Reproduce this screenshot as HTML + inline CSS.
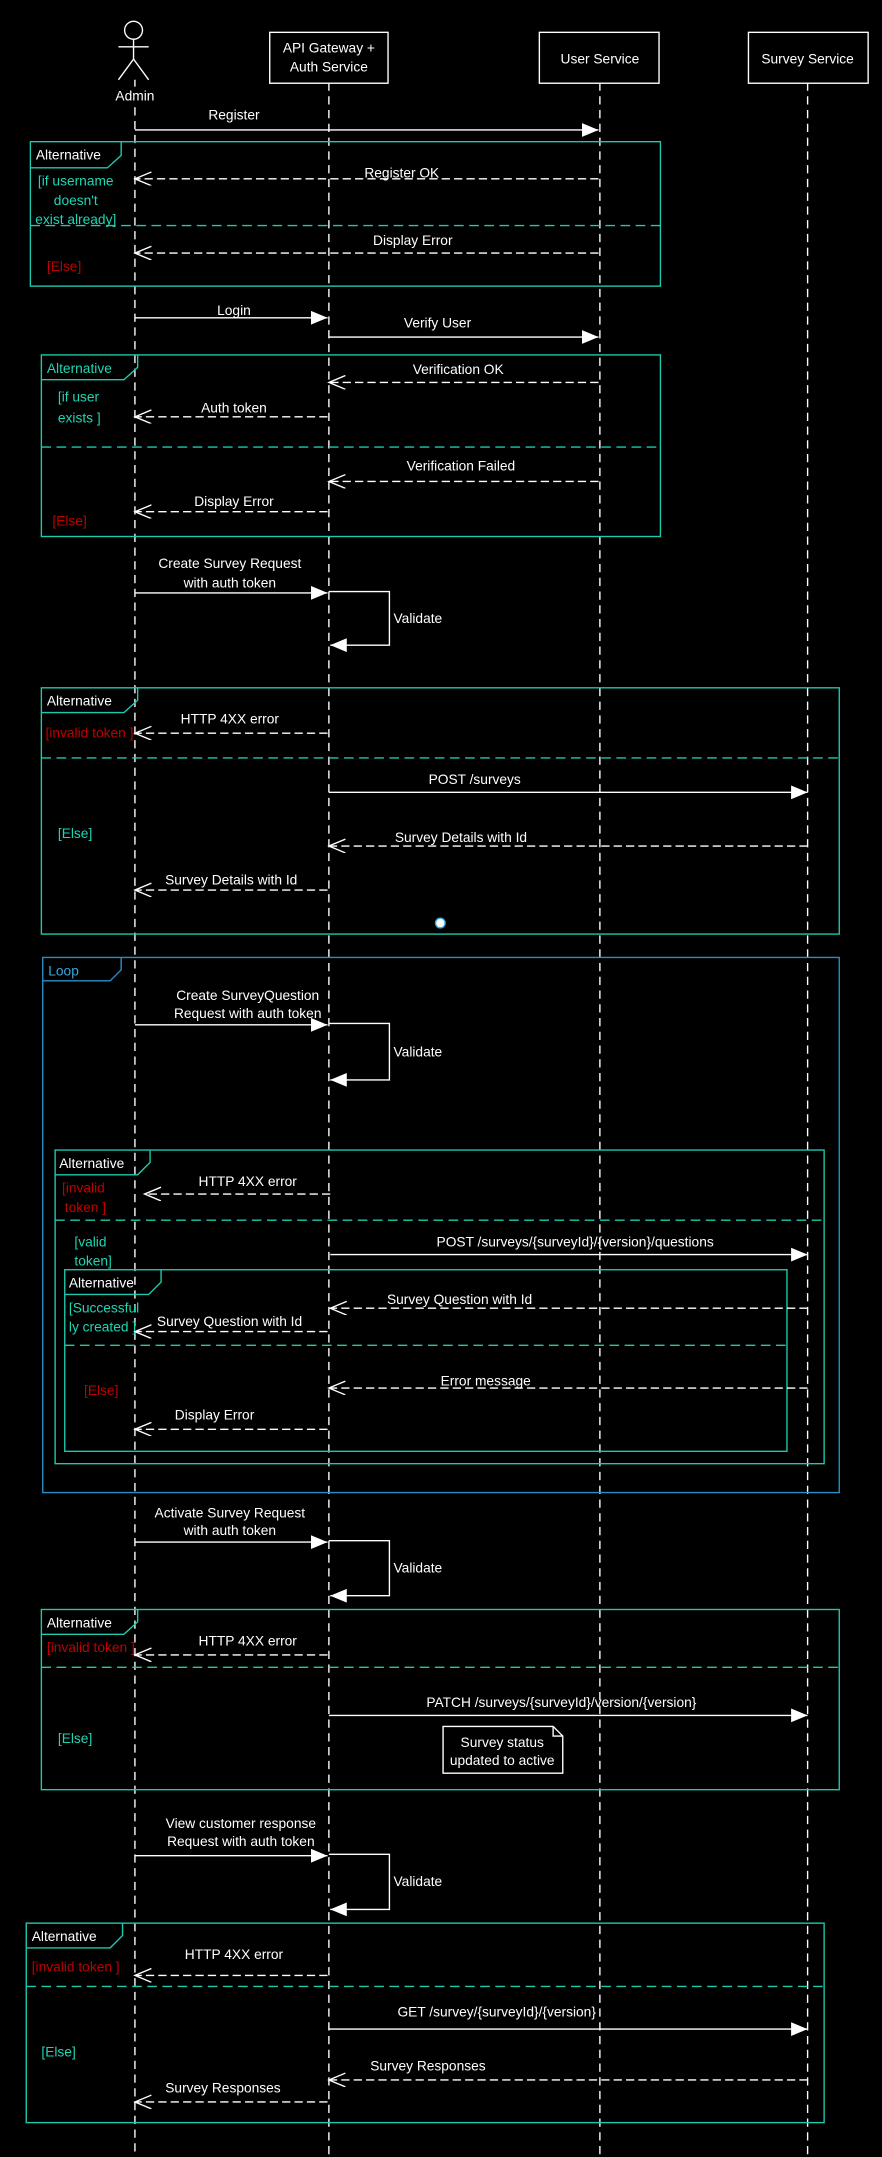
<!DOCTYPE html>
<html><head><meta charset="utf-8"><style>
html,body{margin:0;padding:0;background:#000;}
svg{display:block}
text{font-family:"Liberation Sans Narrow","Liberation Sans",sans-serif;font-size:10px;fill:#fff}
.t{fill:#1fd6b4}.r{fill:#c00000}.b{fill:#3aa8e0}
.ll{stroke:#fff;stroke-width:1;stroke-dasharray:6,4;fill:none}
.s{stroke:#fff;stroke-width:1;fill:none;marker-end:url(#fa)}
.d{stroke:#fff;stroke-width:1;stroke-dasharray:6,3;fill:none;marker-end:url(#oa)}
.f{stroke:#1fc9ad;stroke-width:1;fill:none}
.fd{stroke:#1fc9ad;stroke-width:1;stroke-dasharray:7,4;fill:none}
.lp{stroke:#2a8fc8;stroke-width:1;fill:none}
</style></head><body>
<svg width="882" height="2157" viewBox="0 0 641 1568" xmlns="http://www.w3.org/2000/svg">
<defs>
<marker id="fa" markerUnits="userSpaceOnUse" markerWidth="14" markerHeight="12" refX="12" refY="5" orient="auto"><path d="M0,0 L12,5 L0,10 z" fill="#fff"/></marker>
<marker id="oa" markerUnits="userSpaceOnUse" markerWidth="14" markerHeight="12" refX="12" refY="5" orient="auto"><path d="M0,0 L12,5 L0,10" fill="none" stroke="#fff"/></marker>
</defs>
<rect width="641" height="1568" fill="#000"/>
<!-- lifelines -->
<line class="ll" x1="98" y1="58" x2="98" y2="1568"/>
<line class="ll" x1="239" y1="60" x2="239" y2="1568"/>
<line class="ll" x1="436" y1="60" x2="436" y2="1568"/>
<line class="ll" x1="587" y1="60" x2="587" y2="1568"/>
<!-- actor -->
<circle cx="97" cy="22" r="6.5" fill="#000" stroke="#fff"/>
<line x1="97" y1="28.5" x2="97" y2="43" stroke="#fff"/>
<line x1="86" y1="34" x2="108" y2="34" stroke="#fff"/>
<path d="M86,58 L97,43 L108,58" fill="none" stroke="#fff"/>
<rect x="88" y="63" width="20" height="12" fill="#000"/>
<text x="98" y="73" text-anchor="middle">Admin</text>
<!-- headers -->
<rect x="196" y="23.5" width="86" height="37" fill="#000" stroke="#fff"/>
<text x="239" y="38" text-anchor="middle">API Gateway +</text>
<text x="239" y="52" text-anchor="middle">Auth Service</text>
<rect x="392" y="23.5" width="87" height="37" fill="#000" stroke="#fff"/>
<text x="436" y="46" text-anchor="middle">User Service</text>
<rect x="544" y="23.5" width="87" height="37" fill="#000" stroke="#fff"/>
<text x="587" y="46" text-anchor="middle">Survey Service</text>

<!-- Register -->
<text x="170" y="87" text-anchor="middle">Register</text>
<line class="s" x1="98" y1="94.5" x2="435" y2="94.5"/>
<rect class="f" x="22" y="103" width="458" height="105"/>
<path class="f" d="M22,122 L78,122 L88,113 L88,103"/>
<text x="26" y="116">Alternative</text>
<text class="t" x="55" y="135" text-anchor="middle">[if username</text>
<text class="t" x="55" y="149" text-anchor="middle">doesn't</text>
<text class="t" x="55" y="163" text-anchor="middle">exist already]</text>
<text x="292" y="129" text-anchor="middle">Register OK</text>
<line class="d" x1="435" y1="130" x2="98" y2="130"/>
<line class="fd" x1="22" y1="164" x2="480" y2="164"/>
<text x="300" y="178" text-anchor="middle">Display Error</text>
<line class="d" x1="435" y1="184" x2="98" y2="184"/>
<text class="r" x="34" y="197">[Else]</text>

<!-- Login -->
<text x="170" y="229" text-anchor="middle">Login</text>
<line class="s" x1="98" y1="231" x2="238" y2="231"/>
<text x="318" y="238" text-anchor="middle">Verify User</text>
<line class="s" x1="239" y1="245" x2="435" y2="245"/>
<rect class="f" x="30" y="258" width="450" height="132"/>
<path class="f" d="M30,276 L90,276 L100,267 L100,258"/>
<text x="34" y="271" class="t">Alternative</text>
<text x="333" y="272" text-anchor="middle">Verification OK</text>
<line class="d" x1="435" y1="278" x2="239" y2="278"/>
<text class="t" x="42" y="292">[if user</text>
<text class="t" x="42" y="307">exists ]</text>
<text x="170" y="300" text-anchor="middle">Auth token</text>
<line class="d" x1="238" y1="303" x2="98" y2="303"/>
<line class="fd" x1="30" y1="325" x2="480" y2="325"/>
<text x="335" y="342" text-anchor="middle">Verification Failed</text>
<line class="d" x1="435" y1="350" x2="239" y2="350"/>
<text x="170" y="368" text-anchor="middle">Display Error</text>
<line class="d" x1="238" y1="372" x2="98" y2="372"/>
<text class="r" x="38" y="382">[Else]</text>

<!-- Create Survey -->
<text x="167" y="413" text-anchor="middle">Create Survey Request</text>
<text x="167" y="427" text-anchor="middle">with auth token</text>
<line class="s" x1="98" y1="431" x2="238" y2="431"/>
<path class="s" d="M239,430 L283,430 L283,469 L240,469"/>
<text x="286" y="453">Validate</text>
<rect class="f" x="30" y="500" width="580" height="179"/>
<path class="f" d="M30,518 L90,518 L100,509 L100,500"/>
<text x="34" y="513">Alternative</text>
<text class="r" x="33" y="536">[invalid token ]</text>
<text x="167" y="526" text-anchor="middle">HTTP 4XX error</text>
<line class="d" x1="238" y1="533" x2="98" y2="533"/>
<line class="fd" x1="30" y1="551" x2="610" y2="551"/>
<text x="345" y="570" text-anchor="middle">POST /surveys</text>
<line class="s" x1="239" y1="576" x2="587" y2="576"/>
<text class="t" x="42" y="609">[Else]</text>
<text x="335" y="612" text-anchor="middle">Survey Details with Id</text>
<line class="d" x1="587" y1="615" x2="239" y2="615"/>
<text x="168" y="643" text-anchor="middle">Survey Details with Id</text>
<line class="d" x1="238" y1="647" x2="98" y2="647"/>
<circle cx="320" cy="671" r="3.5" fill="#fff" stroke="#3aa8e0"/>

<!-- Loop -->
<rect class="lp" x="31" y="696" width="579" height="389"/>
<path class="lp" d="M31,713 L80,713 L88,705 L88,696"/>
<text class="b" x="35" y="709">Loop</text>
<text x="180" y="727" text-anchor="middle">Create SurveyQuestion</text>
<text x="180" y="740" text-anchor="middle">Request with auth token</text>
<line class="s" x1="98" y1="745" x2="238" y2="745"/>
<path class="s" d="M239,744 L283,744 L283,785 L240,785"/>
<text x="286" y="768">Validate</text>
<rect class="f" x="40" y="836" width="559" height="228"/>
<path class="f" d="M40,854 L100,854 L109,845 L109,836"/>
<text x="43" y="849">Alternative</text>
<text class="r" x="45" y="867">[invalid</text>
<text class="r" x="47" y="881">token ]</text>
<text x="180" y="862" text-anchor="middle">HTTP 4XX error</text>
<line class="d" x1="240" y1="868" x2="105" y2="868"/>
<line class="fd" x1="40" y1="887" x2="599" y2="887"/>
<text class="t" x="54" y="906">[valid</text>
<text class="t" x="54" y="920">token]</text>
<text x="418" y="906" text-anchor="middle">POST /surveys/{surveyId}/{version}/questions</text>
<line class="s" x1="240" y1="912" x2="587" y2="912"/>
<rect class="f" x="47" y="923" width="525" height="132"/>
<path class="f" d="M47,941 L108,941 L117,932 L117,923"/>
<text x="50" y="936">Alternative</text>
<text x="334" y="948" text-anchor="middle">Survey Question with Id</text>
<line class="d" x1="587" y1="951" x2="240" y2="951"/>
<text class="t" x="50" y="954">[Successful</text>
<text class="t" x="50" y="968">ly created ]</text>
<text x="114" y="964">Survey Question with Id</text>
<line class="d" x1="238" y1="968" x2="98" y2="968"/>
<line class="fd" x1="47" y1="978" x2="572" y2="978"/>
<text x="353" y="1007" text-anchor="middle">Error message</text>
<line class="d" x1="587" y1="1009" x2="239" y2="1009"/>
<text class="r" x="61" y="1014">[Else]</text>
<text x="127" y="1032">Display Error</text>
<line class="d" x1="238" y1="1039" x2="98" y2="1039"/>

<!-- Activate -->
<text x="167" y="1103" text-anchor="middle">Activate Survey Request</text>
<text x="167" y="1116" text-anchor="middle">with auth token</text>
<line class="s" x1="98" y1="1121" x2="238" y2="1121"/>
<path class="s" d="M239,1120 L283,1120 L283,1160 L240,1160"/>
<text x="286" y="1143">Validate</text>
<rect class="f" x="30" y="1170" width="580" height="131"/>
<path class="f" d="M30,1188 L90,1188 L100,1179 L100,1170"/>
<text x="34" y="1183">Alternative</text>
<text class="r" x="34" y="1201">[invalid token ]</text>
<text x="180" y="1196" text-anchor="middle">HTTP 4XX error</text>
<line class="d" x1="238" y1="1203" x2="98" y2="1203"/>
<line class="fd" x1="30" y1="1212" x2="610" y2="1212"/>
<text x="408" y="1241" text-anchor="middle">PATCH /surveys/{surveyId}/version/{version}</text>
<line class="s" x1="239" y1="1247" x2="587" y2="1247"/>
<path d="M322,1255 L402,1255 L409,1262 L409,1289 L322,1289 z" fill="#000" stroke="#fff"/>
<path d="M402,1255 L402,1262 L409,1262" fill="none" stroke="#fff"/>
<text x="365" y="1270" text-anchor="middle">Survey status</text>
<text x="365" y="1283" text-anchor="middle">updated to active</text>
<text class="t" x="42" y="1267">[Else]</text>

<!-- View -->
<text x="175" y="1329" text-anchor="middle">View customer response</text>
<text x="175" y="1342" text-anchor="middle">Request with auth token</text>
<line class="s" x1="98" y1="1349" x2="238" y2="1349"/>
<path class="s" d="M239,1348 L283,1348 L283,1388 L240,1388"/>
<text x="286" y="1371">Validate</text>
<rect class="f" x="19" y="1398" width="580" height="145"/>
<path class="f" d="M19,1416 L80,1416 L89,1407 L89,1398"/>
<text x="23" y="1411">Alternative</text>
<text class="r" x="23" y="1433">[invalid token ]</text>
<text x="170" y="1424" text-anchor="middle">HTTP 4XX error</text>
<line class="d" x1="238" y1="1436" x2="98" y2="1436"/>
<line class="fd" x1="19" y1="1444" x2="599" y2="1444"/>
<text x="361" y="1466" text-anchor="middle">GET /survey/{surveyId}/{version}</text>
<line class="s" x1="239" y1="1475" x2="587" y2="1475"/>
<text class="t" x="30" y="1495">[Else]</text>
<text x="311" y="1505" text-anchor="middle">Survey Responses</text>
<line class="d" x1="587" y1="1512" x2="239" y2="1512"/>
<text x="162" y="1521" text-anchor="middle">Survey Responses</text>
<line class="d" x1="238" y1="1528" x2="98" y2="1528"/>
</svg>
</body></html>
